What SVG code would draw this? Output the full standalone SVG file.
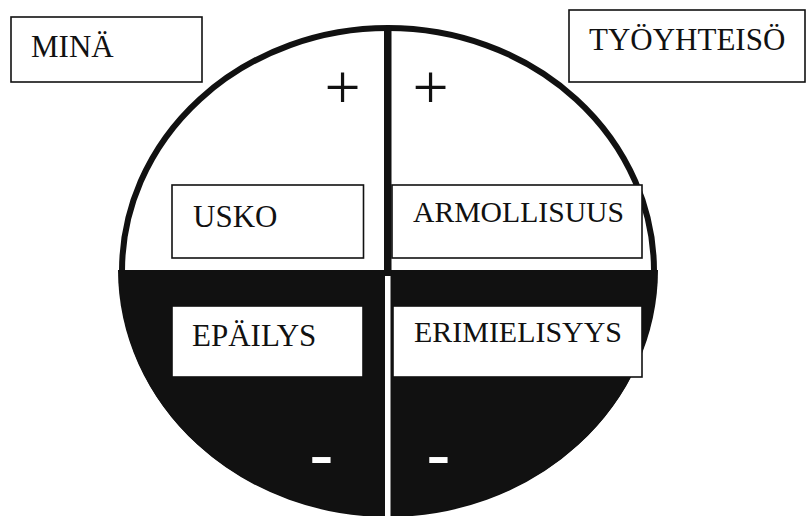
<svg xmlns="http://www.w3.org/2000/svg" width="806" height="516" viewBox="0 0 806 516">
<style>
.box{fill:#fff;stroke:#111;stroke-width:1.6}
.lbl{fill:#111}
.sign{font-size:64px;fill:#111;text-anchor:middle}
.minus{font-size:70px;font-weight:bold;fill:#fff;text-anchor:middle}
</style>
<rect width="806" height="516" fill="#fff"/>
<g id="circle">
<ellipse cx="388" cy="271" rx="266" ry="243" fill="#fff" stroke="#111" stroke-width="6"/>
<path d="M118 270 A270 246 0 0 0 658 270 Z" fill="#111"/>
</g>
<g id="connectors">
<rect x="384" y="27" width="7.5" height="249" fill="#111"/>
<rect x="385" y="276" width="5.5" height="242" fill="#fff"/>
</g>
<g font-family="'Liberation Serif', 'Times New Roman', Times, 'DejaVu Serif', serif">
<g id="mina">
<rect class="box" x="11" y="17" width="191" height="65"/>
<text class="lbl" x="31" y="57" font-size="31">MINÄ</text>
</g>
<g id="tyoyhteiso">
<rect class="box" x="569" y="10" width="236" height="72"/>
<text class="lbl" x="589" y="50" font-size="31">TYÖYHTEISÖ</text>
</g>
<g id="plus-left"><text class="sign" x="342.5" y="109">+</text></g>
<g id="plus-right"><text class="sign" x="430.5" y="109">+</text></g>
<g id="usko">
<rect class="box" x="172" y="185" width="191.5" height="73"/>
<text class="lbl" x="193" y="227" font-size="31">USKO</text>
</g>
<g id="armollisuus">
<rect class="box" x="392" y="185" width="250" height="73"/>
<text class="lbl" x="413" y="222" font-size="29" textLength="211" lengthAdjust="spacingAndGlyphs">ARMOLLISUUS</text>
</g>
<g id="epailys">
<rect class="box" x="172" y="306" width="191" height="71"/>
<text class="lbl" x="192" y="346" font-size="31">EPÄILYS</text>
</g>
<g id="erimielisyys">
<rect class="box" x="393" y="306" width="249" height="71"/>
<text class="lbl" x="414" y="342" font-size="29" textLength="208" lengthAdjust="spacingAndGlyphs">ERIMIELISYYS</text>
</g>
<g id="minus-left"><text class="minus" x="321.5" y="477">-</text></g>
<g id="minus-right"><text class="minus" x="438.5" y="477">-</text></g>
</g>
</svg>
